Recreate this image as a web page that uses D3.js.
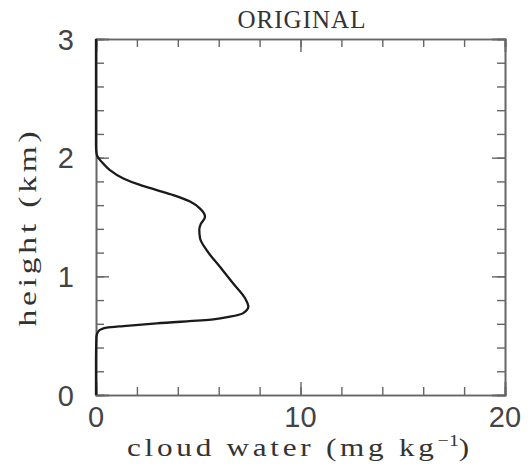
<!DOCTYPE html>
<html>
<head>
<meta charset="utf-8">
<script src="https://cdn.jsdelivr.net/npm/d3@7"></script>
<style>
  body { margin: 0; background: #fff; }
  svg { display: block; }
</style>
</head>
<body>
<div class="grafica"></div>
<script>
// perfil de agua de nube, de abajo hacia arriba
const altura = [0.0, 0.3, 0.49, 0.533, 0.556, 0.567, 0.581, 0.604, 0.637, 0.66, 0.69, 0.745, 0.815, 0.94, 1.08, 1.22, 1.32, 1.39, 1.44, 1.50, 1.57, 1.63, 1.685, 1.727, 1.77, 1.825, 1.895, 1.95, 1.99, 2.03, 2.1, 2.5, 3.0];
const agua_nube = [0, 0, 0.02, 0.1, 0.28, 0.52, 1.34, 2.97, 5.74, 6.55, 7.2, 7.45, 7.29, 6.71, 6.06, 5.41, 5.09, 5.05, 5.12, 5.33, 5.09, 4.6, 3.78, 2.97, 2.15, 1.34, 0.68, 0.36, 0.15, 0.03, 0, 0, 0];

const ticks_x = [0, 10, 20];
const ticks_x_menor = d3.range(0, 20.01, 2);
const ticks_y = [0, 1, 2, 3];
const ticks_y_menor = d3.range(0, 3.001, 0.2);

const titulo = "ORIGINAL";

function grafica() {
    const width = 531, height = 466;
    const margin = { left: 96, right: 26, top: 39, bottom: 71 };

    const svg = d3.select('.grafica').append('svg')
        .attr('width', width)
        .attr('height', height);

    const x = d3.scaleLinear().domain([0, 20]).range([margin.left, width - margin.right]);
    const y = d3.scaleLinear().domain([0, 3]).range([height - margin.bottom, margin.top]);

    const colorEje = '#666';

    // ejes con marcas hacia adentro
    const ejes = [
        { gen: d3.axisBottom, sc: x, t: `translate(0,${y(0)})`, vals: ticks_x, menor: ticks_x_menor },
        { gen: d3.axisTop, sc: x, t: `translate(0,${y(3)})`, vals: ticks_x, menor: ticks_x_menor },
        { gen: d3.axisLeft, sc: y, t: `translate(${x(0)},0)`, vals: ticks_y, menor: ticks_y_menor },
        { gen: d3.axisRight, sc: y, t: `translate(${x(20)},0)`, vals: ticks_y, menor: ticks_y_menor }
    ];
    ejes.forEach(e => {
        svg.append('g').attr('transform', e.t)
            .call(e.gen(e.sc).tickValues(e.menor).tickSize(-8).tickFormat(''));
        svg.append('g').attr('transform', e.t)
            .call(e.gen(e.sc).tickValues(e.vals).tickSize(-13).tickFormat(''));
    });
    svg.selectAll('.domain').attr('stroke', colorEje).attr('stroke-width', 1.6);
    svg.selectAll('.tick line').attr('stroke', colorEje).attr('stroke-width', 1.4);

    // etiquetas de los ejes
    const fuenteNum = '"Liberation Sans", Arial, sans-serif';
    svg.append('g').selectAll('text').data(ticks_x).join('text')
        .attr('x', d => x(d)).attr('y', 427)
        .attr('text-anchor', 'middle')
        .style('font-family', fuenteNum).style('font-size', '29px').style('fill', '#444')
        .text(d => d);
    svg.append('g').selectAll('text').data(ticks_y).join('text')
        .attr('x', 74).attr('y', d => y(d) + 10.5)
        .attr('text-anchor', 'end')
        .style('font-family', fuenteNum).style('font-size', '29px').style('fill', '#444')
        .text(d => d);

    const fuenteSerif = '"Liberation Serif", "DejaVu Serif", serif';
    svg.append('text')
        .attr('x', 302).attr('y', 28)
        .attr('text-anchor', 'middle')
        .attr('textLength', 129).attr('lengthAdjust', 'spacingAndGlyphs')
        .style('font-family', fuenteSerif).style('font-size', '25px').style('fill', '#333')
        .style('letter-spacing', '1px')
        .text(titulo);

    const xl = svg.append('text')
        .attr('x', 300).attr('y', 456)
        .attr('text-anchor', 'middle')
        .attr('textLength', 346).attr('lengthAdjust', 'spacingAndGlyphs')
        .style('font-family', fuenteSerif).style('font-size', '25px').style('fill', '#333')
        .style('letter-spacing', '3px');
    xl.append('tspan').text('cloud water (mg kg');
    xl.append('tspan').attr('dy', -10).style('font-size', '16px').style('letter-spacing', '0px').text('\u22121');
    xl.append('tspan').attr('dy', 10).text(')');

    svg.append('text')
        .attr('transform', 'translate(36,227) rotate(-90)')
        .attr('text-anchor', 'middle')
        .attr('textLength', 199).attr('lengthAdjust', 'spacingAndGlyphs')
        .style('font-family', fuenteSerif).style('font-size', '26px').style('fill', '#333')
        .style('letter-spacing', '3px')
        .text('height (km)');

    // curva
    const puntos = altura.map((h, i) => ({ h: h, q: agua_nube[i] }));
    const linea = d3.line()
        .x(d => x(d.q))
        .y(d => y(d.h))
        .curve(d3.curveMonotoneY);

    svg.append('path')
        .datum(puntos)
        .attr('d', linea)
        .attr('fill', 'none')
        .attr('stroke', '#1a1a1a')
        .attr('stroke-width', 2.3)
        .attr('stroke-linejoin', 'round');
}

grafica();
</script>
</body>
</html>
